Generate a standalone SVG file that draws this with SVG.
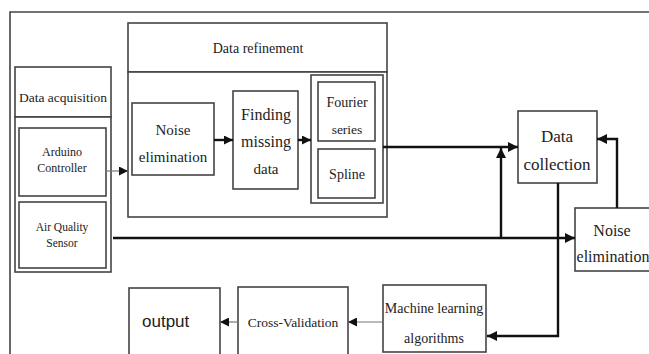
<svg xmlns="http://www.w3.org/2000/svg" width="649" height="354" viewBox="0 0 649 354">
<style>
.box{fill:#fff;stroke:#444;stroke-width:1.6}
.t{font-family:'Liberation Serif','DejaVu Serif','Times New Roman',serif;fill:#222;text-anchor:middle}
.s{font-family:'Liberation Sans','DejaVu Sans',Arial,sans-serif;fill:#222}
.thick{fill:none;stroke:#111;stroke-width:2.4}
.thin{fill:none;stroke:#777;stroke-width:1.2}
</style>
<defs>
<marker id="ah" viewBox="0 0 10 10" refX="10" refY="5" markerWidth="10" markerHeight="10" markerUnits="userSpaceOnUse" orient="auto">
<path d="M0,0 L10,5 L0,10 z" fill="#111"/>
</marker>
<marker id="ahs" viewBox="0 0 10 10" refX="10" refY="5" markerWidth="9" markerHeight="9" markerUnits="userSpaceOnUse" orient="auto">
<path d="M0,0 L10,5 L0,10 z" fill="#111"/>
</marker>
</defs>
<rect width="649" height="354" fill="#fff"/>
<path d="M10,356 V12 H650" fill="none" stroke="#444" stroke-width="1.6"/>

<g id="data-acquisition">
<rect class="box" x="15" y="67" width="96" height="50"/>
<rect class="box" x="15" y="117" width="96" height="155"/>
<text class="t" font-family="Liberation Serif, serif" x="63" y="102" font-size="13.5">Data acquisition</text>
</g>
<g id="arduino">
<rect class="box" x="19" y="128" width="87" height="68"/>
<text class="t" font-family="Liberation Serif, serif" x="62" y="156" font-size="12">Arduino</text>
<text class="t" font-family="Liberation Serif, serif" x="62" y="172" font-size="12">Controller</text>
</g>
<g id="air-quality">
<rect class="box" x="19" y="202" width="87" height="66"/>
<text class="t" font-family="Liberation Serif, serif" x="62" y="231" font-size="11.5">Air Quality</text>
<text class="t" font-family="Liberation Serif, serif" x="62" y="247" font-size="11.5">Sensor</text>
</g>

<g id="data-refinement">
<rect class="box" x="128" y="23" width="259" height="49"/>
<rect class="box" x="128" y="72" width="259" height="145"/>
<text class="t" font-family="Liberation Serif, serif" x="258" y="53" font-size="14">Data refinement</text>
</g>
<g id="noise-elimination-1">
<rect class="box" x="132" y="103" width="82" height="72"/>
<text class="t" font-family="Liberation Serif, serif" x="173" y="135" font-size="15">Noise</text>
<text class="t" font-family="Liberation Serif, serif" x="173" y="162" font-size="15">elimination</text>
</g>
<g id="finding-missing">
<rect class="box" x="233" y="91" width="65" height="98"/>
<text class="t" font-family="Liberation Serif, serif" x="266" y="120" font-size="16">Finding</text>
<text class="t" font-family="Liberation Serif, serif" x="266" y="147" font-size="16">missing</text>
<text class="t" font-family="Liberation Serif, serif" x="266" y="174" font-size="15">data</text>
</g>
<g id="interpolation">
<rect class="box" x="311" y="75" width="72" height="128"/>
</g>
<g id="fourier">
<rect class="box" x="318" y="82" width="57" height="59"/>
<text class="t" font-family="Liberation Serif, serif" x="347" y="107" font-size="14">Fourier</text>
<text class="t" font-family="Liberation Serif, serif" x="347" y="134" font-size="13.5">series</text>
</g>
<g id="spline">
<rect class="box" x="318" y="149" width="57" height="49"/>
<text class="t" font-family="Liberation Serif, serif" x="347" y="179" font-size="14">Spline</text>
</g>

<g id="data-collection">
<rect class="box" x="518" y="111" width="79" height="72"/>
<text class="t" font-family="Liberation Serif, serif" x="557" y="142" font-size="17">Data</text>
<text class="t" font-family="Liberation Serif, serif" x="557" y="170" font-size="17">collection</text>
</g>
<g id="noise-elimination-2">
<rect class="box" x="575" y="208" width="80" height="63"/>
<text class="t" font-family="Liberation Serif, serif" x="612" y="236" font-size="16">Noise</text>
<text class="t" font-family="Liberation Serif, serif" x="613" y="262" font-size="16">elimination</text>
</g>

<g id="machine-learning">
<rect class="box" x="383" y="285" width="103" height="67"/>
<text class="t" font-family="Liberation Serif, serif" x="434" y="313" font-size="14">Machine learning</text>
<text class="t" font-family="Liberation Serif, serif" x="434" y="343" font-size="14">algorithms</text>
</g>
<g id="cross-validation">
<rect class="box" x="238" y="287" width="110" height="72"/>
<text class="t" font-family="Liberation Serif, serif" x="293" y="327" font-size="13.5">Cross-Validation</text>
</g>
<g id="output">
<rect class="box" x="129" y="288" width="91" height="71"/>
<text class="s" font-family="Liberation Sans, sans-serif" x="142" y="327" font-size="17">output</text>
</g>

<g id="connectors">
<path class="thin" d="M106,171 H128" marker-end="url(#ahs)"/>
<path class="thick" d="M214,140 H233" stroke-width="1.6" marker-end="url(#ahs)"/>
<path class="thick" d="M298,140 H311" stroke-width="1.6" marker-end="url(#ahs)"/>
<path class="thick" d="M383,147 H518" marker-end="url(#ah)"/>
<path class="thick" d="M113,238 H575" marker-end="url(#ah)"/>
<path class="thick" d="M501,238 V148" marker-end="url(#ah)"/>
<path class="thick" d="M617,208 V139 H597" marker-end="url(#ah)"/>
<path class="thick" d="M558,183 V336 H487" marker-end="url(#ah)"/>
<path class="thin" d="M383,322 H348" marker-end="url(#ahs)"/>
<path class="thin" d="M238,322 H220" marker-end="url(#ahs)"/>
</g>
</svg>
